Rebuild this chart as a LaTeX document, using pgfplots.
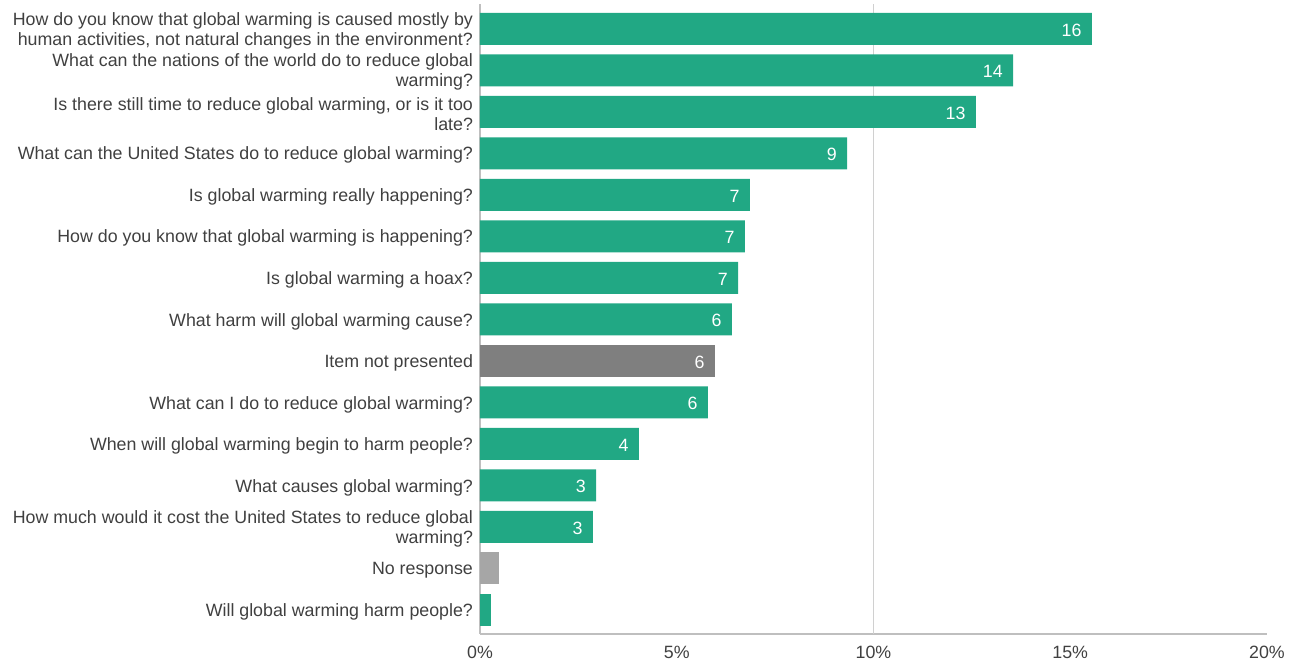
\documentclass[border=0pt]{standalone}
\usepackage{pgfplots}
\pgfplotsset{compat=1.18}
\usepackage{fontspec}
\setmainfont{Liberation Sans}
\definecolor{bargreen}{HTML}{21A884}
\definecolor{bardark}{HTML}{7F7F7F}
\definecolor{barlight}{HTML}{A6A6A6}
\definecolor{txt}{HTML}{404040}
\definecolor{axisgrey}{HTML}{BFBFBF}
\definecolor{gridgrey}{HTML}{D0D0D0}
\begin{document}
\begin{tikzpicture}
\path[use as bounding box] (-240pt,-16.5pt) rectangle (408pt,317pt);
\begin{axis}[
  at={(0,0)}, anchor=south west,
  scale only axis, width=393.5pt, height=315pt,
  xbar, bar width=0.77,
  xmin=0, xmax=20, ymin=-0.58, ymax=14.6,
  axis x line=bottom, axis y line=left,
  axis line style={-, draw=axisgrey, line width=0.6pt},
  major tick length=0pt,
  xtick={0,5,15,20},
  xticklabels={0\%,5\%,15\%,20\%},
  extra x ticks={10},
  extra x tick labels={10\%},
  extra x tick style={grid=major, major grid style={draw=gridgrey, line width=0.6pt}},
  ytick={0,...,14},
  yticklabels={
    {Will global warming harm people?},
    {No response},
    {How much would it cost the United States to reduce global\\warming?},
    {What causes global warming?},
    {When will global warming begin to harm people?},
    {What can I do to reduce global warming?},
    {Item not presented},
    {What harm will global warming cause?},
    {Is global warming a hoax?},
    {How do you know that global warming is happening?},
    {Is global warming really happening?},
    {What can the United States do to reduce global warming?},
    {Is there still time to reduce global warming, or is it too\\late?},
    {What can the nations of the world do to reduce global\\warming?},
    {How do you know that global warming is caused mostly by\\human activities, not natural changes in the environment?}
  },
  yticklabel style={align=right, font=\fontsize{8.9}{10}\selectfont, text=txt, xshift=0pt, yshift=-1pt},
  xticklabel style={font=\fontsize{8.9}{10}\selectfont, text=txt, yshift=-2.3pt},
  point meta=explicit symbolic,
  nodes near coords style={anchor=east, text=white, inner sep=0pt, xshift=-5pt, yshift=-0.5pt, font=\fontsize{8.9}{10}\selectfont},
]
\addplot[fill=bargreen, draw=none, bar shift=0pt, nodes near coords] coordinates {
  (15.55,14) [16]
  (13.55,13) [14]
  (12.60,12) [13]
  (9.33,11) [9]
  (6.86,10) [7]
  (6.73,9) [7]
  (6.56,8) [7]
  (6.40,7) [6]
  (5.79,5) [6]
  (4.04,4) [4]
  (2.95,3) [3]
  (2.87,2) [3]
};
\addplot[fill=bardark, draw=none, bar shift=0pt, nodes near coords] coordinates {
  (5.97,6) [6]
};
\addplot[fill=barlight, draw=none, bar shift=0pt] coordinates {
  (0.48,1) []
};
\addplot[fill=bargreen, draw=none, bar shift=0pt] coordinates {
  (0.28,0) []
};
\end{axis}
\end{tikzpicture}
\end{document}
